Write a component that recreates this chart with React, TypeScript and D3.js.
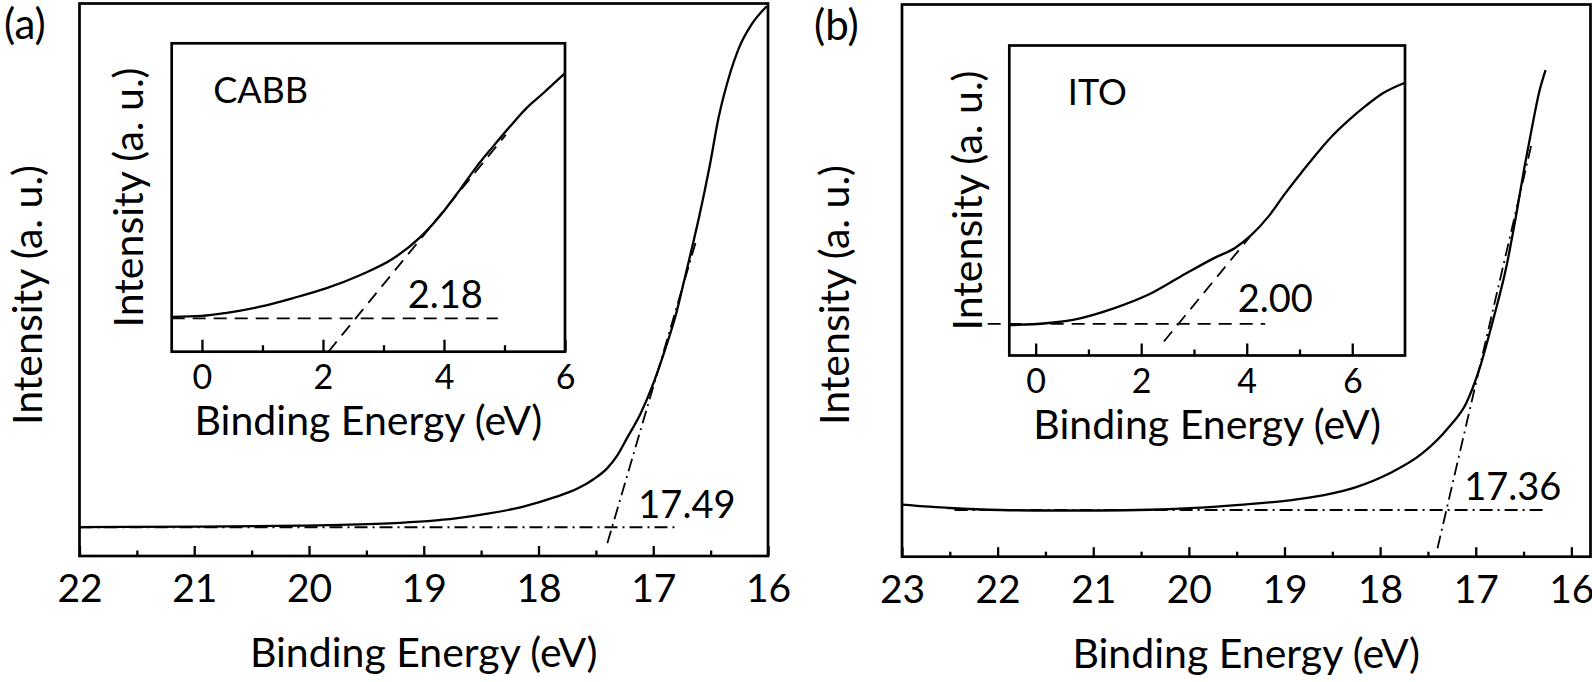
import React, { useRef, useEffect } from 'react';
import * as d3 from 'd3';

// ---- panel (a): CABB, secondary-electron cutoff ----
const aEnergy = [22.0, 20.95, 20.08, 19.3, 18.72, 18.43, 18.14, 17.85, 17.66, 17.52, 17.4, 17.31, 17.23, 17.11, 17.0, 16.89, 16.8, 16.73, 16.66, 16.6, 16.51, 16.43, 16.34, 16.25, 16.14, 16.01];
const aIntensity = [5.24, 5.33, 5.5, 5.9, 6.8, 7.7, 8.9, 10.7, 12.2, 13.9, 15.9, 18.3, 21.3, 25.8, 31.2, 37.8, 43.9, 49.9, 56.0, 61.4, 70.4, 79.4, 86.7, 92.1, 96.3, 99.5];
const aTangent = [[17.4, 2.3], [16.62, 57.5]];
const aBaseline = [[22.0, 5.2], [16.79, 5.2]];
const aTicks = [22, 21, 20, 19, 18, 17, 16];
const aMinor = [21.5, 20.5, 19.5, 18.5, 17.5, 16.5];

// ---- panel (a) inset: valence band edge ----
const iaEnergy = [-0.5, 0.0, 0.41, 0.96, 1.51, 2.06, 2.61, 3.16, 3.6, 3.99, 4.26, 4.54, 4.81, 5.09, 5.36, 5.64, 6.0];
const iaIntensity = [0.113, 0.116, 0.126, 0.146, 0.174, 0.206, 0.248, 0.302, 0.37, 0.454, 0.524, 0.6, 0.665, 0.73, 0.789, 0.838, 0.903];
const iaTangent = [[2.09, 0], [5.02, 0.703]];
const iaBaseline = [[-0.5, 0.108], [4.89, 0.108]];
const iaTicks = [0, 2, 4, 6];
const iaMinor = [1, 3, 5];

// ---- panel (b): ITO ----
const bEnergy = [23.0, 22.5, 21.97, 21.45, 20.93, 20.41, 19.99, 19.47, 18.95, 18.6, 18.25, 17.9, 17.56, 17.28, 17.1, 16.96, 16.82, 16.68, 16.58, 16.49, 16.41, 16.34, 16.27];
const bIntensity = [9.43, 8.82, 8.46, 8.37, 8.37, 8.5, 8.8, 9.4, 10.2, 11.1, 12.6, 15.1, 18.7, 23.5, 27.8, 34.1, 42.8, 52.5, 61.6, 70.6, 77.9, 83.9, 88.1];
const bTangent = [[17.4, 1.52], [16.41, 75.2]];
const bBaseline = [[22.45, 8.46], [16.25, 8.46]];
const bTicks = [23, 22, 21, 20, 19, 18, 17, 16];
const bMinor = [22.5, 21.5, 20.5, 19.5, 18.5, 17.5, 16.5];

// ---- panel (b) inset ----
const ibEnergy = [-0.5, 0.2, 0.84, 1.48, 2.12, 2.75, 3.39, 3.77, 4.09, 4.41, 4.73, 5.05, 5.37, 5.62, 5.94, 6.26, 6.58, 7.0];
const ibIntensity = [0.098, 0.104, 0.12, 0.152, 0.195, 0.255, 0.315, 0.346, 0.389, 0.448, 0.523, 0.593, 0.66, 0.708, 0.76, 0.806, 0.846, 0.88];
const ibTangent = [[2.43, 0.045], [4.06, 0.383]];
const ibBaseline = [[-0.91, 0.102], [4.35, 0.102]];
const ibTicks = [0, 2, 4, 6];
const ibMinor = [1, 3, 5];

const W = 1592;
const H = 682;
const FONT = 'Lato, "Open Sans", sans-serif';
const DASH_DOT = '13,5,2,5';
const DASH = '13,8';
const TITLE = 41;

const zip = (xs: number[], ys: number[]) => xs.map((x, i) => [x, ys[i]]);

export default function App() {
  const svgRef = useRef<SVGSVGElement>(null);

  useEffect(() => {
    const svg = d3.select(svgRef.current);
    svg.selectAll('*').remove();
    svg.append('rect').attr('width', W).attr('height', H).attr('fill', '#fff');

    const text = (x: number, y: number, s: string, size: number, anchor = 'start') =>
      svg.append('text')
        .attr('x', x).attr('y', y)
        .attr('font-family', FONT).attr('font-size', size)
        .attr('text-anchor', anchor).attr('fill', '#000')
        .text(s);

    const yTitle = (x: number, y: number, s: string, size: number) =>
      svg.append('text')
        .attr('transform', `translate(${x},${y}) rotate(-90)`)
        .attr('font-family', FONT).attr('font-size', size)
        .attr('text-anchor', 'middle').attr('fill', '#000')
        .text(s);

    const drawPlot = (opt: any) => {
      const { x, y, data, tangent, baseline, dash, majors, minors, majLen, minLen, tickSize, pad, inset } = opt;
      const [x0, x1] = [opt.left, opt.right];
      const [y0, y1] = [opt.top, opt.bottom];

      if (inset) {
        svg.append('rect').attr('x', x0).attr('y', y0).attr('width', x1 - x0).attr('height', y1 - y0).attr('fill', '#fff');
      }

      const line = d3.line<number[]>().x((d) => x(d[0])).y((d) => y(d[1]));

      svg.append('path').datum(baseline).attr('d', line)
        .attr('fill', 'none').attr('stroke', '#000').attr('stroke-width', 1.8).attr('stroke-dasharray', dash);
      svg.append('path').datum(tangent).attr('d', line)
        .attr('fill', 'none').attr('stroke', '#000').attr('stroke-width', 1.8).attr('stroke-dasharray', dash);

      const sorted = data.slice().sort((a: number[], b: number[]) => x(a[0]) - x(b[0]));
      svg.append('path').datum(sorted).attr('d', line.curve(d3.curveMonotoneX))
        .attr('fill', 'none').attr('stroke', '#000').attr('stroke-width', 2.3);

      const gMaj = svg.append('g').attr('transform', `translate(0,${y1})`)
        .call(d3.axisBottom(x).tickValues(majors).tickSize(-majLen).tickPadding(pad).tickFormat(d3.format('d')));
      gMaj.select('.domain').remove();
      gMaj.selectAll('line').attr('stroke', '#000').attr('stroke-width', 2.3);
      gMaj.selectAll('text').attr('font-family', FONT).attr('font-size', tickSize).attr('fill', '#000');

      const gMin = svg.append('g').attr('transform', `translate(0,${y1})`)
        .call(d3.axisBottom(x).tickValues(minors).tickSize(-minLen).tickFormat(() => ''));
      gMin.select('.domain').remove();
      gMin.selectAll('line').attr('stroke', '#000').attr('stroke-width', 2.3);

      svg.append('rect').attr('x', x0).attr('y', y0).attr('width', x1 - x0).attr('height', y1 - y0)
        .attr('fill', 'none').attr('stroke', '#000').attr('stroke-width', 2.7);
    };

    // ---------- panel (a) ----------
    const xA = d3.scaleLinear().domain([22, 16]).range([79.5, 768]);
    const yA = d3.scaleLinear().domain([0, 100]).range([556, 3.5]);
    drawPlot({
      x: xA, y: yA, left: 79.5, right: 768, top: 3.5, bottom: 556,
      data: zip(aEnergy, aIntensity), tangent: aTangent, baseline: aBaseline, dash: DASH_DOT,
      majors: aTicks, minors: aMinor, majLen: 10, minLen: 5.5, tickSize: 39, pad: 18,
    });
    text(xA(17.13), yA(6.85), '17.49', 38);
    text((79.5 + 768) / 2, 667, 'Binding Energy (eV)', TITLE, 'middle');
    yTitle(42, 295, 'Intensity (a. u.)', TITLE);
    text(4, 39, '(a)', 42);

    const xIA = d3.scaleLinear().domain([-0.5, 6]).range([171.7, 565]);
    const yIA = d3.scaleLinear().domain([0, 1]).range([351.7, 43.3]);
    drawPlot({
      x: xIA, y: yIA, left: 171.7, right: 565, top: 43.3, bottom: 351.7, inset: true,
      data: zip(iaEnergy, iaIntensity), tangent: iaTangent, baseline: iaBaseline, dash: DASH,
      majors: iaTicks, minors: iaMinor, majLen: 12, minLen: 6.5, tickSize: 34, pad: 13,
    });
    text(xIA(3.4), yIA(0.141), '2.18', 38);
    text(xIA(0.185), yIA(0.805), 'CABB', 36);
    text((171.7 + 565) / 2, 435, 'Binding Energy (eV)', TITLE, 'middle');
    yTitle(143, 197.5, 'Intensity (a. u.)', TITLE);

    // ---------- panel (b) ----------
    const xB = d3.scaleLinear().domain([23, 15.8]).range([902, 1590.5]);
    const yB = d3.scaleLinear().domain([0, 100]).range([556.7, 4.5]);
    drawPlot({
      x: xB, y: yB, left: 902, right: 1590.5, top: 4.5, bottom: 556.7,
      data: zip(bEnergy, bIntensity), tangent: bTangent, baseline: bBaseline, dash: DASH_DOT,
      majors: bTicks, minors: bMinor, majLen: 9.5, minLen: 5, tickSize: 39, pad: 19,
    });
    text(xB(17.12), yB(10.27), '17.36', 38);
    text((902 + 1590.5) / 2, 668, 'Binding Energy (eV)', TITLE, 'middle');
    yTitle(849, 295, 'Intensity (a. u.)', TITLE);
    text(814, 40, '(b)', 42);

    const xIB = d3.scaleLinear().domain([-0.5, 7]).range([1009.3, 1405]);
    const yIB = d3.scaleLinear().domain([0, 1]).range([355.5, 45.5]);
    drawPlot({
      x: xIB, y: yIB, left: 1009.3, right: 1405, top: 45.5, bottom: 355.5, inset: true,
      data: zip(ibEnergy, ibIntensity), tangent: ibTangent, baseline: ibBaseline, dash: DASH,
      majors: ibTicks, minors: ibMinor, majLen: 12, minLen: 6, tickSize: 34, pad: 13,
    });
    text(xIB(3.83), yIB(0.141), '2.00', 38);
    text(xIB(0.61), yIB(0.808), 'ITO', 36);
    text((1009.3 + 1405) / 2, 438.5, 'Binding Energy (eV)', TITLE, 'middle');
    yTitle(981.7, 200.5, 'Intensity (a. u.)', TITLE);
  }, []);

  return (
    <svg
      ref={svgRef}
      width={W}
      height={H}
      style={{ position: 'absolute', left: 0, top: 0, display: 'block' }}
    />
  );
}
